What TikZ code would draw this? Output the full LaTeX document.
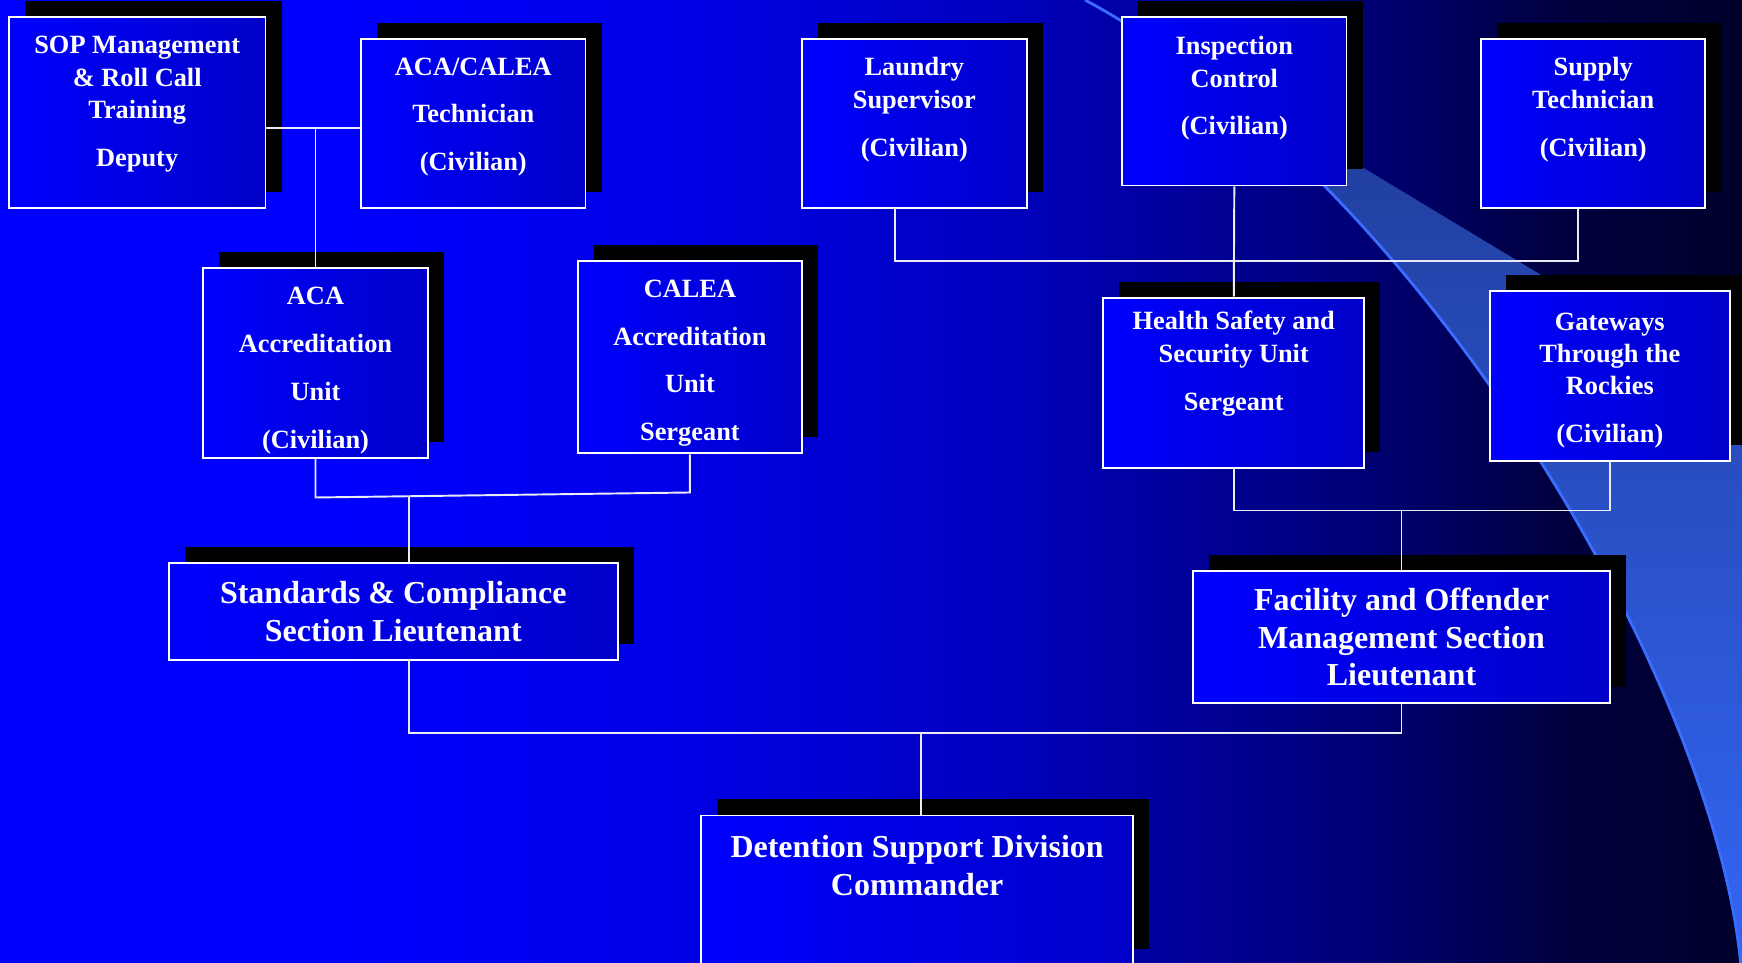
\documentclass[tikz,border=0pt]{standalone}
\usepackage{fontspec}
\setmainfont{Liberation Serif}
\usepackage{xcolor}
\usepackage{tikz}
\usetikzlibrary{positioning}
\usetikzlibrary{shadows}
\definecolor{boxdark}{RGB}{0,0,200}
\definecolor{bandtop}{RGB}{30,56,144}
\definecolor{bandmid}{RGB}{48,96,225}
\definecolor{bandbot}{RGB}{51,102,245}
\definecolor{bandedge}{RGB}{58,108,255}
\definecolor{wirecol}{RGB}{235,235,245}
\pgfdeclarehorizontalshading{bgfade}{100bp}{rgb(0bp)=(0,0,1); rgb(34.5bp)=(0,0,1); rgb(44bp)=(0,0,0.91); rgb(53.5bp)=(0,0,0.75); rgb(63.5bp)=(0,0,0.48); rgb(69.5bp)=(0,0,0.25); rgb(75bp)=(0,0,0.17); rgb(100bp)=(0,0,0.17)}

\begin{document}
\begin{tikzpicture}[transform shape,scale=1,
	orgbox/.style={draw=white,line width=0.55pt,left color=blue,right color=boxdark,inner sep=0pt,
		drop shadow={shadow xshift=0.16cm,shadow yshift=0.16cm,fill=black,opacity=1}},
	smalltxt/.style={text=white,align=center,inner sep=0pt,font=\fontsize{7.5}{9.2}\selectfont\bfseries},
	bigtxt/.style={text=white,align=center,inner sep=0pt,font=\fontsize{9.1}{10.75}\selectfont\bfseries},
	wire/.style={draw=wirecol,line width=0.55pt}]
		\useasboundingbox (0,0) rectangle (17.42,9.62);
		\clip (0,0) rectangle (17.42,9.62);
		\shade[shading=bgfade] (0,0) rectangle (17.42,9.62);
		\shade[top color=bandtop,middle color=bandmid,bottom color=bandbot] (10.85,9.62) -- (17.45,5.64) -- (17.45,-0.05) -- (17.41,-0.05) .. controls (17.15,2.82) and (14.2,7.82) .. (10.85,9.62) -- cycle;
		\draw[bandedge,line width=0.8pt] (10.85,9.62) .. controls (14.2,7.82) and (17.15,2.82) .. (17.41,-0.05);
		
		\node[orgbox,minimum width=2.566cm,minimum height=1.911cm] (sop) at (1.372,8.4975) {};
		\node[orgbox,minimum width=2.244cm,minimum height=1.689cm] (tech) at (4.733,8.3865) {};
		\node[orgbox,minimum width=2.245cm,minimum height=1.689cm] (laundry) at (9.1435,8.3865) {};
		\node[orgbox,minimum width=2.244cm,minimum height=1.688cm] (inspection) at (12.343,8.609) {};
		\node[orgbox,minimum width=2.244cm,minimum height=1.689cm] (supply) at (15.932,8.3865) {};
		\node[orgbox,minimum width=2.244cm,minimum height=1.899cm] (acaunit) at (3.155,5.9925) {};
		\node[orgbox,minimum width=2.244cm,minimum height=1.922cm] (calea) at (6.899,6.048) {};
		\node[orgbox,minimum width=2.611cm,minimum height=1.7cm] (health) at (12.3375,5.793) {};
		\node[orgbox,minimum width=2.4cm,minimum height=1.7cm] (gateways) at (16.098,5.859) {};
		\node[orgbox,minimum width=4.488cm,minimum height=0.966cm] (standards) at (3.933,3.504) {};
		\node[orgbox,minimum width=4.166cm,minimum height=1.323cm] (facility) at (14.015,3.2485) {};
		\node[orgbox,minimum width=4.322cm,minimum height=1.495cm] (detention) at (9.171,0.7175) {};
		
		\node[smalltxt,below=0.2cm of sop.north] (soptxt) {SOP Management\\ \& Roll Call\\ Training\\[4.4pt] Deputy};
		\node[smalltxt,below=0.19cm of tech.north] (techtxt) {ACA/CALEA\\[4.4pt] Technician\\[4.4pt] (Civilian)};
		\node[smalltxt,below=0.19cm of laundry.north] (laundrytxt) {Laundry\\ Supervisor\\[4.4pt] (Civilian)};
		\node[smalltxt,below=0.2cm of inspection.north] (inspectiontxt) {Inspection\\ Control\\[4.4pt] (Civilian)};
		\node[smalltxt,below=0.19cm of supply.north] (supplytxt) {Supply\\ Technician\\[4.4pt] (Civilian)};
		\node[smalltxt,below=0.2cm of acaunit.north] (acaunittxt) {ACA\\[4.4pt] Accreditation\\[4.4pt] Unit\\[4.4pt] (Civilian)};
		\node[smalltxt,below=0.19cm of calea.north] (caleatxt) {CALEA\\[4.4pt] Accreditation\\[4.4pt] Unit\\[4.4pt] Sergeant};
		\node[smalltxt,below=0.14cm of health.north] (healthtxt) {Health Safety and\\ Security Unit\\[4.4pt] Sergeant};
		\node[smalltxt,below=0.22cm of gateways.north] (gatewaystxt) {Gateways\\ Through the\\ Rockies\\[4.4pt] (Civilian)};
		\node[bigtxt] (standardstxt) at (standards.center) {Standards \& Compliance\\ Section Lieutenant};
		\node[bigtxt] (facilitytxt) at (facility.center) {Facility and Offender\\ Management Section\\ Lieutenant};
		\node[bigtxt,below=0.2cm of detention.north] (detentiontxt) {Detention Support Division\\ Commander};
		
		\coordinate (jsop) at (3.155,8.342);
		\draw[wire] (sop.east |- jsop) -- (tech.west |- jsop);
		\draw[wire] (jsop) -- (acaunit.north);
		\coordinate (jaca) at (3.155,4.645);
		\coordinate (jcalea) at (6.899,4.695);
		\coordinate (jstd) at (4.09,4.657);
		\draw[wire] (acaunit.south) -- (jaca) -- (jcalea) -- (calea.south);
		\draw[wire] (jstd) -- (standards.north -| jstd);
		\coordinate (jmid) at (9.21,2.29);
		\draw[wire] (standards.south -| jstd) -- (jstd |- jmid) -- (facility.south |- jmid) -- (facility.south);
		\draw[wire] (jmid) -- (detention.north -| jmid);
		\coordinate (jtop) at (12.343,7.01);
		\draw[wire] ([xshift=-0.19cm]laundry.south) |- (jtop) -| ([xshift=-0.156cm]supply.south);
		\draw[wire] (inspection.south) -- (health.north);
		\coordinate (jhg) at (14.015,4.515);
		\draw[wire] (health.south) |- (jhg) -| (gateways.south);
		\draw[wire] (jhg) -- (facility.north);
	\end{tikzpicture}
\end{document}
